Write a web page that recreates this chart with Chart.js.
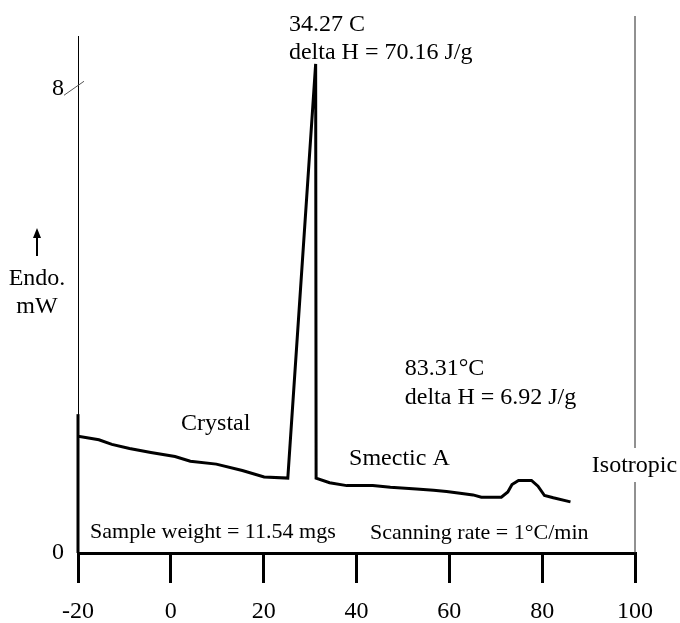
<!DOCTYPE html>
<html>
<head>
<meta charset="utf-8">
<script src="https://cdn.jsdelivr.net/npm/chart.js@4/dist/chart.umd.min.js"></script>
<style>
  body { margin: 0; background: #fff; }
  #wrap { width: 680px; height: 623px; }
</style>
</head>
<body>
<div id="wrap"><canvas id="myCanvas" width="680" height="623"></canvas></div>
<script>
// DSC heating curve, temperature (C) vs heat flow (mW)
let temps = [-20, -15.5, -12.7, -8.9, -4.3, 0.9, 4.2, 9.8, 15.4, 20.1, 25.2, 31.2, 31.3, 34.2, 37.9, 43.5, 47.3, 52.9, 56.6, 59.4, 62.3, 65.1, 66.9, 71.2, 72.6, 73.5, 74.9, 77.7, 79.1, 80.5, 82.4, 86.1];
let heatFlow = [2.01, 1.95, 1.87, 1.80, 1.73, 1.66, 1.58, 1.53, 1.42, 1.31, 1.29, 8.42, 1.29, 1.21, 1.16, 1.16, 1.13, 1.10, 1.08, 1.06, 1.03, 1.00, 0.96, 0.96, 1.05, 1.18, 1.25, 1.25, 1.15, 0.99, 0.95, 0.88];
let xTicks = [-20, 0, 20, 40, 60, 80, 100];
let yTicks = [0, 8];

// text notes on the plot, placed in data units
let notes = [
  { text: "34.27 C", x: 25.45, y: 9.1 },
  { text: "delta H = 70.16 J/g", x: 25.45, y: 8.62 },
  { text: "83.31\u00b0C", x: 50.4, y: 3.17 },
  { text: "delta H = 6.92 J/g", x: 50.4, y: 2.67 },
  { text: "Crystal", x: 2.2, y: 2.22 },
  { text: "Smectic A", x: 38.4, y: 1.62 },
  { text: "Isotropic", x: 90.7, y: 1.5 },
  { text: "Sample weight = 11.54 mgs", x: -17.4, y: 0.36, size: 22 },
  { text: "Scanning rate = 1\u00b0C/min", x: 42.9, y: 0.34, size: 22 },
];

let points = temps.map((t, i) => ({ x: t, y: heatFlow[i] }));

const extras = {
  id: "extras",
  afterDraw(chart) {
    const ctx = chart.ctx;
    const xs = chart.scales.x;
    const ys = chart.scales.y;
    const left = chart.chartArea.left;
    const bottom = chart.chartArea.bottom;
    ctx.save();
    ctx.fillStyle = "#000";
    ctx.strokeStyle = "#000";
    ctx.textBaseline = "middle";

    notes.forEach((n) => {
      ctx.font = (n.size || 24) + "px 'Liberation Serif', serif";
      ctx.textAlign = "left";
      ctx.fillText(n.text, xs.getPixelForValue(n.x), ys.getPixelForValue(n.y));
    });

    // y axis caption
    ctx.font = "24px 'Liberation Serif', serif";
    ctx.textAlign = "center";
    ctx.fillText("Endo.", 37, 279);
    ctx.fillText("mW", 37, 307);
    ctx.lineWidth = 2;
    ctx.beginPath();
    ctx.moveTo(37, 256);
    ctx.lineTo(37, 236);
    ctx.stroke();
    ctx.beginPath();
    ctx.moveTo(37, 228);
    ctx.lineTo(33, 238);
    ctx.lineTo(41, 238);
    ctx.closePath();
    ctx.fill();

    // thicker part of the left axis near the curve start
    ctx.lineWidth = 3;
    ctx.beginPath();
    ctx.moveTo(left, ys.getPixelForValue(2.39));
    ctx.lineTo(left, bottom);
    ctx.stroke();

    // small slash at the 8 mark
    const y8 = ys.getPixelForValue(8);
    ctx.lineWidth = 1;
    ctx.strokeStyle = "#555";
    ctx.beginPath();
    ctx.moveTo(left - 14, y8 + 7);
    ctx.lineTo(left + 6, y8 - 7);
    ctx.stroke();

    // right boundary line at 100, broken around the label
    const xr = xs.getPixelForValue(100);
    ctx.strokeStyle = "#222";
    ctx.beginPath();
    ctx.moveTo(xr, 16);
    ctx.lineTo(xr, 448);
    ctx.moveTo(xr, 482);
    ctx.lineTo(xr, bottom);
    ctx.stroke();
    ctx.restore();
  },
};

let myCanvas = document.getElementById("myCanvas").getContext("2d");
let chart = new Chart(myCanvas, {
  type: "line",
  data: {
    datasets: [
      {
        label: "DSC",
        data: points,
        borderColor: "#000",
        borderWidth: 3,
        pointRadius: 0,
        tension: 0,
        fill: false,
      },
    ],
  },
  options: {
    responsive: false,
    animation: false,
    layout: { padding: { left: 0, right: 45, top: 36, bottom: 0 } },
    plugins: {
      legend: { display: false },
      tooltip: { enabled: false },
    },
    scales: {
      x: {
        type: "linear",
        min: -20,
        max: 100,
        afterBuildTicks: (scale) => {
          scale.ticks = xTicks.map((v) => ({ value: v }));
        },
        afterFit: (scale) => {
          scale.height = 70;
        },
        grid: {
          drawOnChartArea: false,
          drawTicks: true,
          tickLength: 30,
          tickWidth: 3,
          tickColor: "#000",
          lineWidth: 3,
          color: "#000",
        },
        border: { display: true, color: "#000", width: 3 },
        ticks: {
          color: "#000",
          padding: 14,
          maxRotation: 0,
          font: { family: "'Liberation Serif', serif", size: 24 },
        },
      },
      y: {
        type: "linear",
        min: 0,
        max: 8.9,
        afterBuildTicks: (scale) => {
          scale.ticks = yTicks.map((v) => ({ value: v }));
        },
        afterFit: (scale) => {
          scale.width = 78;
        },
        grid: { display: false, drawTicks: false },
        border: { display: true, color: "#000", width: 1 },
        ticks: {
          color: "#000",
          padding: 14,
          font: { family: "'Liberation Serif', serif", size: 24 },
        },
      },
    },
  },
  plugins: [extras],
});
</script>
</body>
</html>
